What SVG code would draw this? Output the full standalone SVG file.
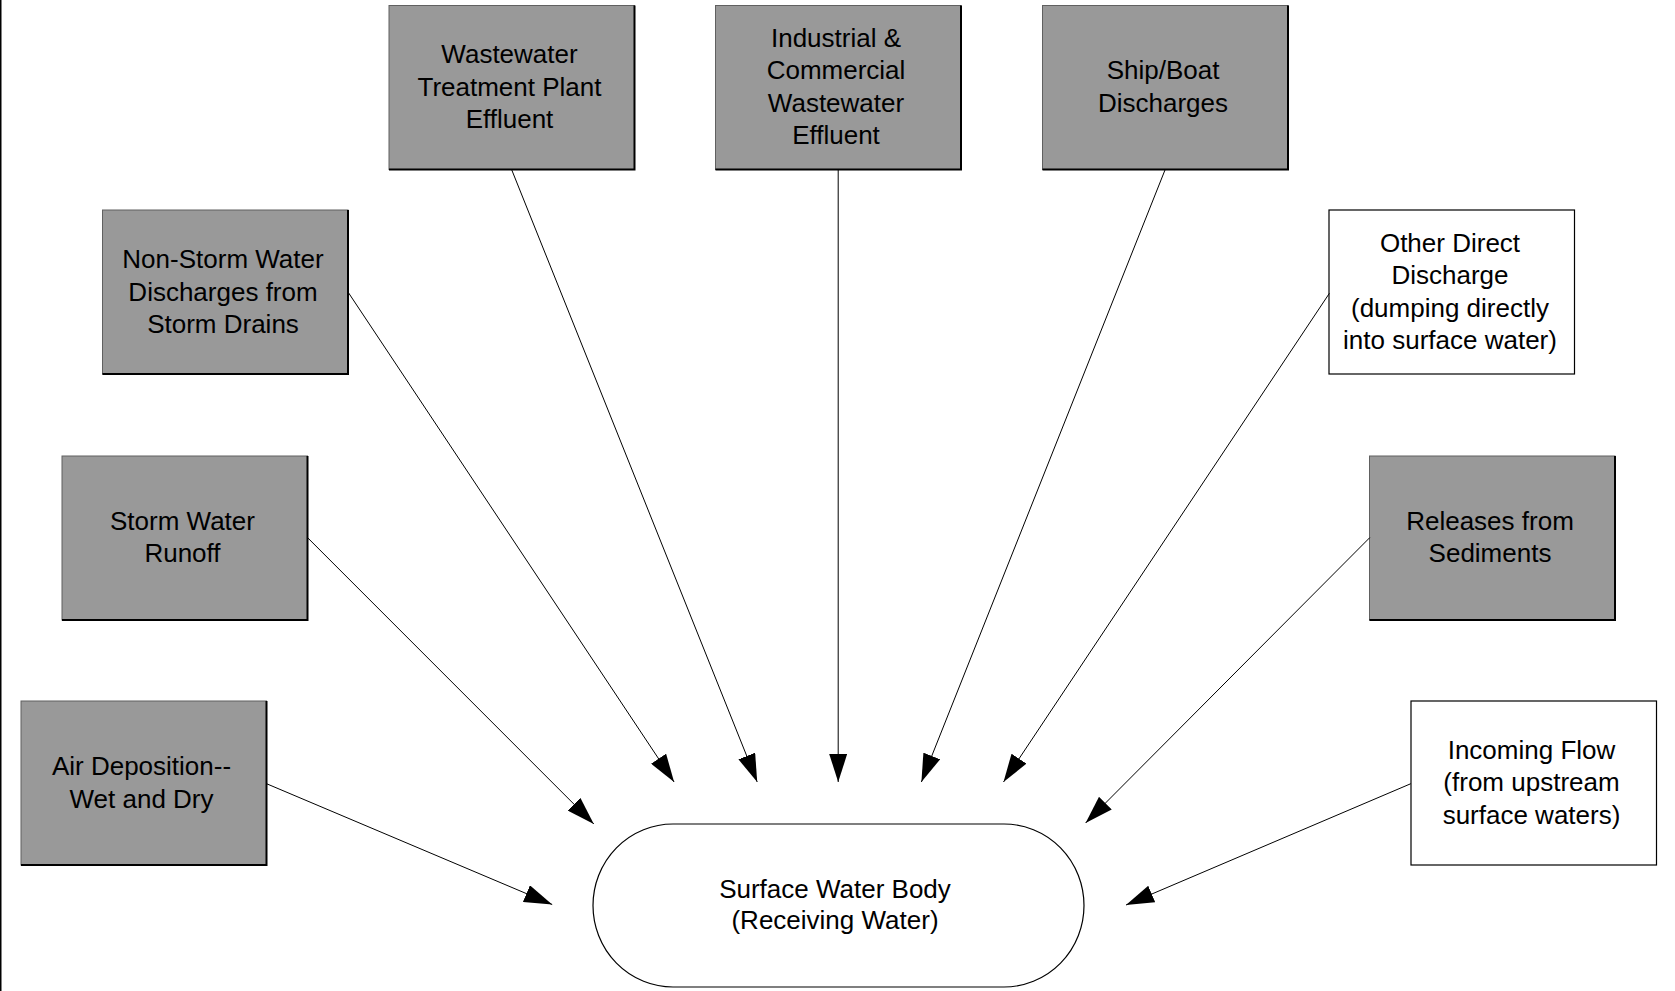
<svg xmlns="http://www.w3.org/2000/svg" width="1675" height="991" viewBox="0 0 1675 991">
  <style>
    text { font-family: "Liberation Sans", Arial, sans-serif; font-size: 26px; fill: #000; text-anchor: middle; }
    .src rect { fill: #999999; stroke: #606060; stroke-width: 1; }
    .src polyline { fill: none; stroke: #000; stroke-width: 2; }
    .ext rect { fill: #ffffff; stroke: #000; stroke-width: 1.2; }
    .ext polyline { fill: none; stroke: #333; stroke-width: 1.5; }
    #connectors line { stroke: #000; stroke-width: 1; marker-end: url(#arrow); }
  </style>
  <defs>
    <marker id="arrow" markerUnits="userSpaceOnUse" markerWidth="28" markerHeight="18" refX="28" refY="9" orient="auto">
      <path d="M0,0 L28,9 L0,18 z" fill="#000"/>
    </marker>
  </defs>

  <rect x="0" y="0" width="1675" height="991" fill="#ffffff"/>
  <!-- page edge -->
  <line x1="0.75" y1="0" x2="0.75" y2="991" stroke="#000" stroke-width="1.5"/>

  <!-- sources -->
  <g id="wtp" class="src">
    <rect x="389" y="5.5" width="245.5" height="164"/>
    <polyline points="634.5,5.5 634.5,169.5 389,169.5"/>
    <text x="509.5" y="63">Wastewater</text>
    <text x="509.5" y="95.5">Treatment Plant</text>
    <text x="509.5" y="128">Effluent</text>
  </g>

  <g id="industrial" class="src">
    <rect x="715.5" y="5.5" width="245.5" height="164"/>
    <polyline points="961,5.5 961,169.5 715.5,169.5"/>
    <text x="836" y="46.5">Industrial &amp;</text>
    <text x="836" y="79">Commercial</text>
    <text x="836" y="111.5">Wastewater</text>
    <text x="836" y="144">Effluent</text>
  </g>

  <g id="ship" class="src">
    <rect x="1042.5" y="5.5" width="245.5" height="164"/>
    <polyline points="1288,5.5 1288,169.5 1042.5,169.5"/>
    <text x="1163" y="79">Ship/Boat</text>
    <text x="1163" y="111.5">Discharges</text>
  </g>

  <g id="nonstorm" class="src">
    <rect x="102.5" y="210" width="245.5" height="164"/>
    <polyline points="348,210 348,374 102.5,374"/>
    <text x="223" y="268">Non-Storm Water</text>
    <text x="223" y="300.5">Discharges from</text>
    <text x="223" y="333">Storm Drains</text>
  </g>

  <g id="otherdirect" class="ext">
    <rect x="1329" y="210" width="245.5" height="164"/>
    <text x="1450" y="251.5">Other Direct</text>
    <text x="1450" y="284">Discharge</text>
    <text x="1450" y="316.5">(dumping directly</text>
    <text x="1450" y="349">into surface water)</text>
  </g>

  <g id="stormrunoff" class="src">
    <rect x="62" y="456" width="245.5" height="164"/>
    <polyline points="307.5,456 307.5,620 62,620"/>
    <text x="182.5" y="529.5">Storm Water</text>
    <text x="182.5" y="562">Runoff</text>
  </g>

  <g id="sediments" class="src">
    <rect x="1369.5" y="456" width="245.5" height="164"/>
    <polyline points="1615,456 1615,620 1369.5,620"/>
    <text x="1490" y="529.5">Releases from</text>
    <text x="1490" y="562">Sediments</text>
  </g>

  <g id="airdeposition" class="src">
    <rect x="21" y="701" width="245.5" height="164"/>
    <polyline points="266.5,701 266.5,865 21,865"/>
    <text x="141.5" y="775">Air Deposition--</text>
    <text x="141.5" y="807.5">Wet and Dry</text>
  </g>

  <g id="incoming" class="ext">
    <rect x="1411" y="701" width="245.5" height="164"/>
    <text x="1531.5" y="758.5">Incoming Flow</text>
    <text x="1531.5" y="791">(from upstream</text>
    <text x="1531.5" y="823.5">surface waters)</text>
  </g>

  <!-- receiving water -->
  <g id="surfacewater">
    <rect x="593" y="824" width="491" height="163" rx="80" ry="81.5" fill="#ffffff" stroke="#000" stroke-width="1.2"/>
    <text x="835" y="897.5">Surface Water Body</text>
    <text x="835" y="929">(Receiving Water)</text>
  </g>

  <!-- flows into the water body -->
  <g id="connectors">
    <line x1="266.5" y1="783.7" x2="552.2" y2="904.5"/>
    <line x1="307.5" y1="537.6" x2="593.8" y2="824"/>
    <line x1="348.2" y1="292.3" x2="674.1" y2="782"/>
    <line x1="511.6" y1="169.5" x2="757.2" y2="782"/>
    <line x1="838.2" y1="169.5" x2="838.2" y2="782"/>
    <line x1="1165.2" y1="169.5" x2="921.4" y2="782"/>
    <line x1="1329.4" y1="293.3" x2="1003.5" y2="782"/>
    <line x1="1369.8" y1="537.6" x2="1085.6" y2="823"/>
    <line x1="1410.8" y1="783.7" x2="1126" y2="905"/>
  </g>
</svg>
